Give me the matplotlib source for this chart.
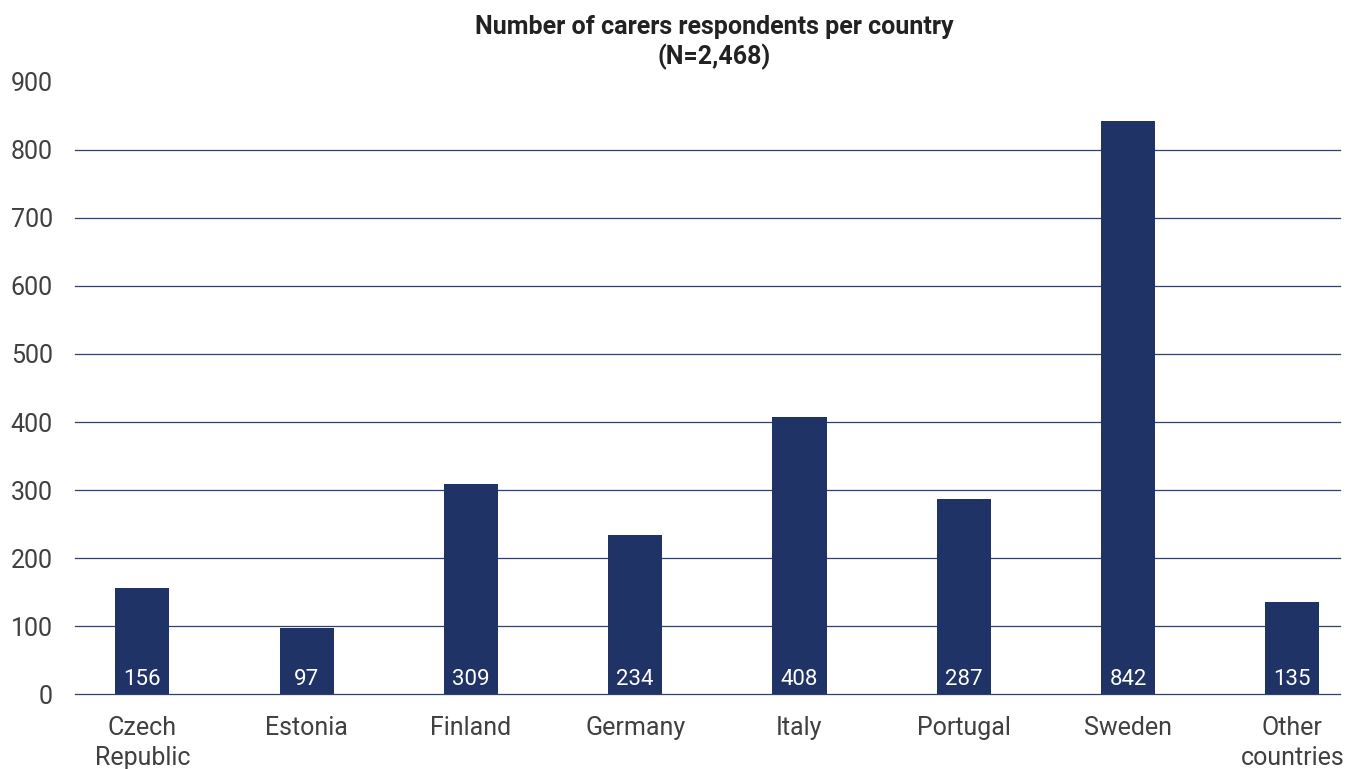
import matplotlib
matplotlib.use('Agg')
import matplotlib.pyplot as plt

countries = ['Czech\nRepublic', 'Estonia', 'Finland', 'Germany', 'Italy',
             'Portugal', 'Sweden', 'Other\ncountries']
respondents = [156, 97, 309, 234, 408, 287, 842, 135]
yticks = [0, 100, 200, 300, 400, 500, 600, 700, 800, 900]

BAR = '#1f3366'
GRID = '#2e3f7a'

plt.rcParams['font.family'] = ['Roboto', 'DejaVu Sans']

fig = plt.figure(figsize=(13.46, 7.69), dpi=100)
ax = fig.add_axes([0.0557, 0.0975, 0.9398, 0.7959])

x = range(len(countries))
ax.bar(x, respondents, width=0.33, color=BAR, zorder=3)

for xi, v in zip(x, respondents):
    ax.text(xi, 22, str(v), ha='center', va='center', color='white',
            fontsize=16, zorder=4)

ax.set_ylim(0, 900)
ax.set_xlim(-0.41, 7.29)
ax.set_yticks(yticks)
ax.set_yticklabels([str(t) for t in yticks])
ax.set_xticks(list(x))
ax.set_xticklabels(countries, linespacing=1.3)

for t in yticks[:-1]:
    ax.axhline(t, color=GRID, lw=0.9, zorder=1, clip_on=False)

for s in ax.spines.values():
    s.set_visible(False)
ax.tick_params(axis='both', length=0, labelsize=18, colors='#404040')
ax.tick_params(axis='y', pad=16)
ax.tick_params(axis='x', pad=16)

fig.text(0.5305, 0.9447, 'Number of carers respondents per country\n(N=2,468)',
         ha='center', va='center', fontsize=18, fontweight='bold',
         color='#222222', linespacing=1.25)

fig.savefig('out.png', dpi=100)
